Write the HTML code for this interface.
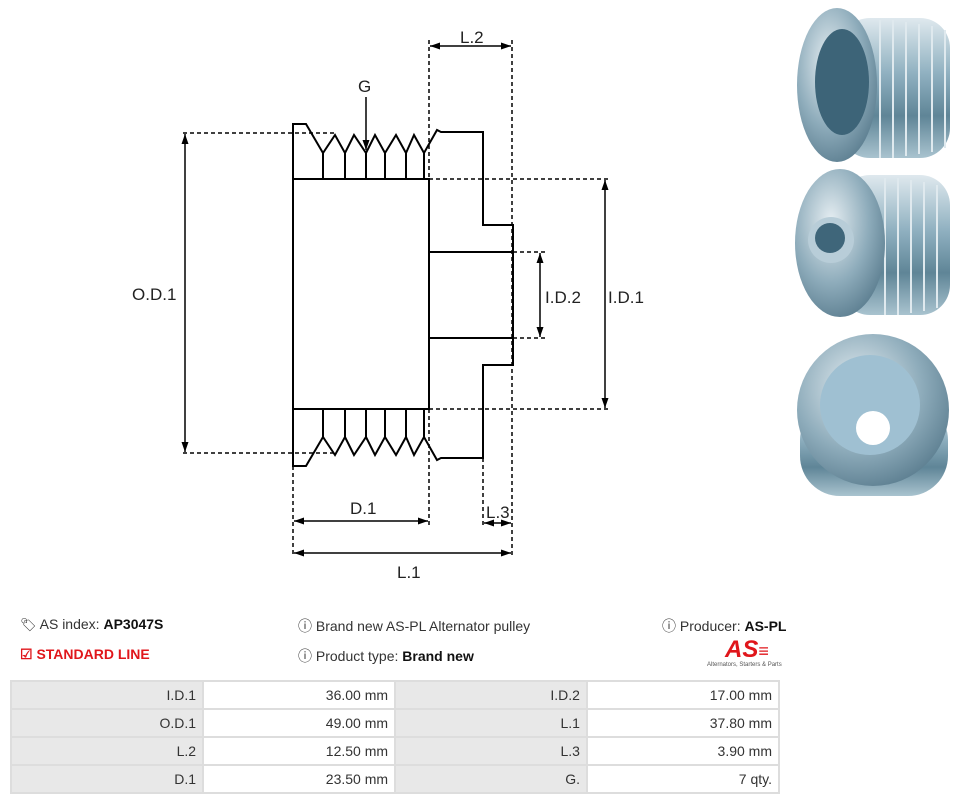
<!DOCTYPE html>
<html><head><meta charset="utf-8"><style>
body{margin:0;width:962px;height:802px;background:#fff;font-family:"Liberation Sans",sans-serif;overflow:hidden;position:relative}
.t{position:absolute;font-size:14px;color:#333;white-space:nowrap}
table{position:absolute;left:10px;top:680px;border-collapse:collapse;width:770px;font-size:14px;color:#333}
td{border:2px solid #ddd;height:24px;padding:1px 6px;text-align:right;width:180px}
td.g{background:#e8e8e8}
</style></head><body>
<svg width="962" height="600" style="position:absolute;left:0;top:0" font-family="Liberation Sans, sans-serif" font-size="17">
<defs>
<marker id="a" markerUnits="userSpaceOnUse" markerWidth="10" markerHeight="10" refX="10" refY="5" orient="auto-start-reverse"><path d="M0,1.5 L10,5 L0,8.5z" fill="#000"/></marker>
<linearGradient id="m" x1="0" y1="0" x2="0" y2="1"><stop offset="0" stop-color="#dfe9ee"/><stop offset=".4" stop-color="#8fb0c0"/><stop offset=".7" stop-color="#5f8597"/><stop offset="1" stop-color="#a9c3cf"/></linearGradient>
<radialGradient id="r" cx=".4" cy=".35" r=".7"><stop offset="0" stop-color="#e6eef2"/><stop offset=".6" stop-color="#8eacbb"/><stop offset="1" stop-color="#5c7e90"/></radialGradient>
</defs>
<g fill="none" stroke="#000" stroke-width="2">
<path d="M293,124 H306 L323,153 L335,135 L345,153 L354,135 L366,153 L375,135 L385,153 L396,135 L406,153 L414,135 L424,153 L437,130 L441,132 H483 V225 H513 V365 H483 V458 H441 L437,460 L424,437 L414,455 L406,437 L396,455 L385,437 L375,455 L366,437 L354,455 L345,437 L335,455 L323,437 L306,466 H293 Z"/>
<path d="M293,179 H429 V409 H293"/>
<path d="M429,252 H513 M429,338 H513"/>
<path d="M323,153 V179 M345,153 V179 M366,153 V179 M385,153 V179 M406,153 V179 M424,153 V179"/>
<path d="M323,437 V409 M345,437 V409 M366,437 V409 M385,437 V409 M406,437 V409 M424,437 V409"/>
</g>
<g fill="none" stroke="#000" stroke-width="1.5" stroke-dasharray="4,3">
<path d="M183,133 H335 M183,453 H335 M429,179 H610 M429,409 H610 M513,252 H545 M513,338 H545"/>
<path d="M429,40 V179 M512,40 V555 M293,466 V555 M429,409 V527 M483,458 V528"/>
</g>
<g stroke="#000" stroke-width="1.5" marker-start="url(#a)" marker-end="url(#a)">
<line x1="185" y1="134" x2="185" y2="452"/><line x1="605" y1="180" x2="605" y2="408"/>
<line x1="540" y1="253" x2="540" y2="337"/><line x1="430" y1="46" x2="511" y2="46"/>
<line x1="294" y1="521" x2="428" y2="521"/><line x1="484" y1="523" x2="511" y2="523"/>
<line x1="294" y1="553" x2="511" y2="553"/>
</g>
<line x1="366" y1="97" x2="366" y2="150" stroke="#000" stroke-width="1.5" marker-end="url(#a)"/>
<g fill="#222"><text x="358" y="92">G</text><text x="460" y="43">L.2</text><text x="132" y="300">O.D.1</text>
<text x="545" y="303">I.D.2</text><text x="608" y="303">I.D.1</text><text x="350" y="514">D.1</text>
<text x="486" y="518">L.3</text><text x="397" y="578">L.1</text></g>
<rect x="840" y="18" width="110" height="140" rx="30" fill="url(#m)"/>
<g stroke="#dfe9ee" stroke-width="2"><path d="M880,20 V158 M893,20 V158 M906,22 V156 M919,24 V154 M932,26 V152 M945,30 V148"/></g>
<ellipse cx="837" cy="85" rx="40" ry="77" fill="url(#r)"/><ellipse cx="842" cy="82" rx="27" ry="53" fill="#3d6478"/>
<rect x="840" y="175" width="110" height="140" rx="30" fill="url(#m)"/>
<g stroke="#dfe9ee" stroke-width="2"><path d="M885,178 V315 M898,178 V315 M911,180 V313 M924,182 V311 M937,185 V308"/></g>
<ellipse cx="840" cy="243" rx="45" ry="74" fill="url(#r)"/><circle cx="831" cy="240" r="23" fill="#b8cdd8"/><circle cx="830" cy="238" r="15" fill="#3f667a"/>
<rect x="800" y="400" width="148" height="96" rx="40" fill="url(#m)"/>
<circle cx="873" cy="410" r="76" fill="url(#r)"/><circle cx="870" cy="405" r="50" fill="#9fc0d2"/><circle cx="873" cy="428" r="17" fill="#fff"/>
</svg>
<div class="t" style="left:20px;top:616px"><span style="font-size:13px">&#x1F3F7;</span> AS index: <b style="color:#111">AP3047S</b></div>
<div class="t" style="left:20px;top:646px;color:#e0161b;font-weight:bold">&#9745; STANDARD LINE</div>
<div class="t" style="left:298px;top:616px">&#9432; Brand new AS-PL Alternator pulley</div>
<div class="t" style="left:298px;top:646px">&#9432; Product type: <b style="color:#111">Brand new</b></div>
<div class="t" style="left:662px;top:616px">&#9432; Producer: <b style="color:#111">AS-PL</b></div>
<div class="t" style="left:725px;top:636px;color:#e0161b;font-weight:bold;font-style:italic;font-size:24px">AS<span style="font-size:18px">&#8801;</span></div>
<div class="t" style="left:707px;top:662px;font-size:6px;color:#555">Alternators, Starters &amp; Parts</div>
<table>
<tr><td class="g">I.D.1</td><td>36.00 mm</td><td class="g">I.D.2</td><td>17.00 mm</td></tr>
<tr><td class="g">O.D.1</td><td>49.00 mm</td><td class="g">L.1</td><td>37.80 mm</td></tr>
<tr><td class="g">L.2</td><td>12.50 mm</td><td class="g">L.3</td><td>3.90 mm</td></tr>
<tr><td class="g">D.1</td><td>23.50 mm</td><td class="g">G.</td><td>7 qty.</td></tr>
</table>
</body></html>
